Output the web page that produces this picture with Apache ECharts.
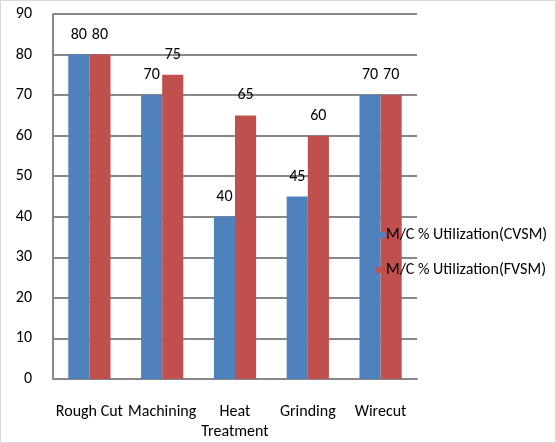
<!DOCTYPE html>
<html>
<head>
<meta charset="utf-8">
<script src="https://cdn.jsdelivr.net/npm/echarts@6/dist/echarts.min.js"></script>
<style>
  html, body { margin: 0; padding: 0; background: #fff; }
  #chart { width: 556px; height: 443px; box-sizing: border-box; border: 1px solid #d9d9d9; }
</style>
</head>
<body>
<div id="chart"></div>
<script>
// 数据
const categories = ['Rough Cut', 'Machining', 'Heat\nTreatment', 'Grinding', 'Wirecut'];
const cvsm = [80, 70, 40, 45, 70];
const fvsm = [80, 75, 65, 60, 70];
const seriesNames = ['M/C % Utilization(CVSM)', 'M/C % Utilization(FVSM)'];

const font = 'Carlito, "Open Sans", "Noto Sans", sans-serif';
const chart = echarts.init(document.getElementById('chart'));

const label = {
    show: true,
    position: 'top',
    distance: 12,
    color: '#000',
    fontFamily: font,
    fontSize: 16
};

chart.setOption({
    animation: false,
    textStyle: { fontFamily: font },
    grid: { left: 52, right: 138, top: 13, bottom: 60 },
    legend: {
        orient: 'vertical',
        left: 370,
        top: 221,
        itemGap: 19,
        itemWidth: 9,
        itemHeight: 6,
        icon: 'rect',
        textStyle: { color: '#000', fontSize: 16, fontFamily: font, padding: [0, 0, 0, -4] },
        data: seriesNames
    },
    xAxis: {
        type: 'category',
        data: categories,
        axisLine: { lineStyle: { color: '#888', width: 2 } },
        axisTick: { show: false },
        axisLabel: { color: '#000', fontSize: 16, fontFamily: font, margin: 23, interval: 0, lineHeight: 20 }
    },
    yAxis: {
        type: 'value',
        min: 0,
        max: 90,
        interval: 10,
        axisLine: { show: true, lineStyle: { color: '#888', width: 2 } },
        axisTick: { show: false },
        axisLabel: { color: '#000', fontSize: 16, fontFamily: font, margin: 21 },
        splitLine: { lineStyle: { color: '#888', width: 2 } }
    },
    series: [
        {
            name: seriesNames[0],
            type: 'bar',
            data: cvsm,
            barGap: '0%',
            barCategoryGap: '42%',
            itemStyle: { color: '#4F81BD' },
            label: label
        },
        {
            name: seriesNames[1],
            type: 'bar',
            data: fvsm,
            itemStyle: { color: '#C0504D' },
            label: label
        }
    ]
});
</script>
</body>
</html>
